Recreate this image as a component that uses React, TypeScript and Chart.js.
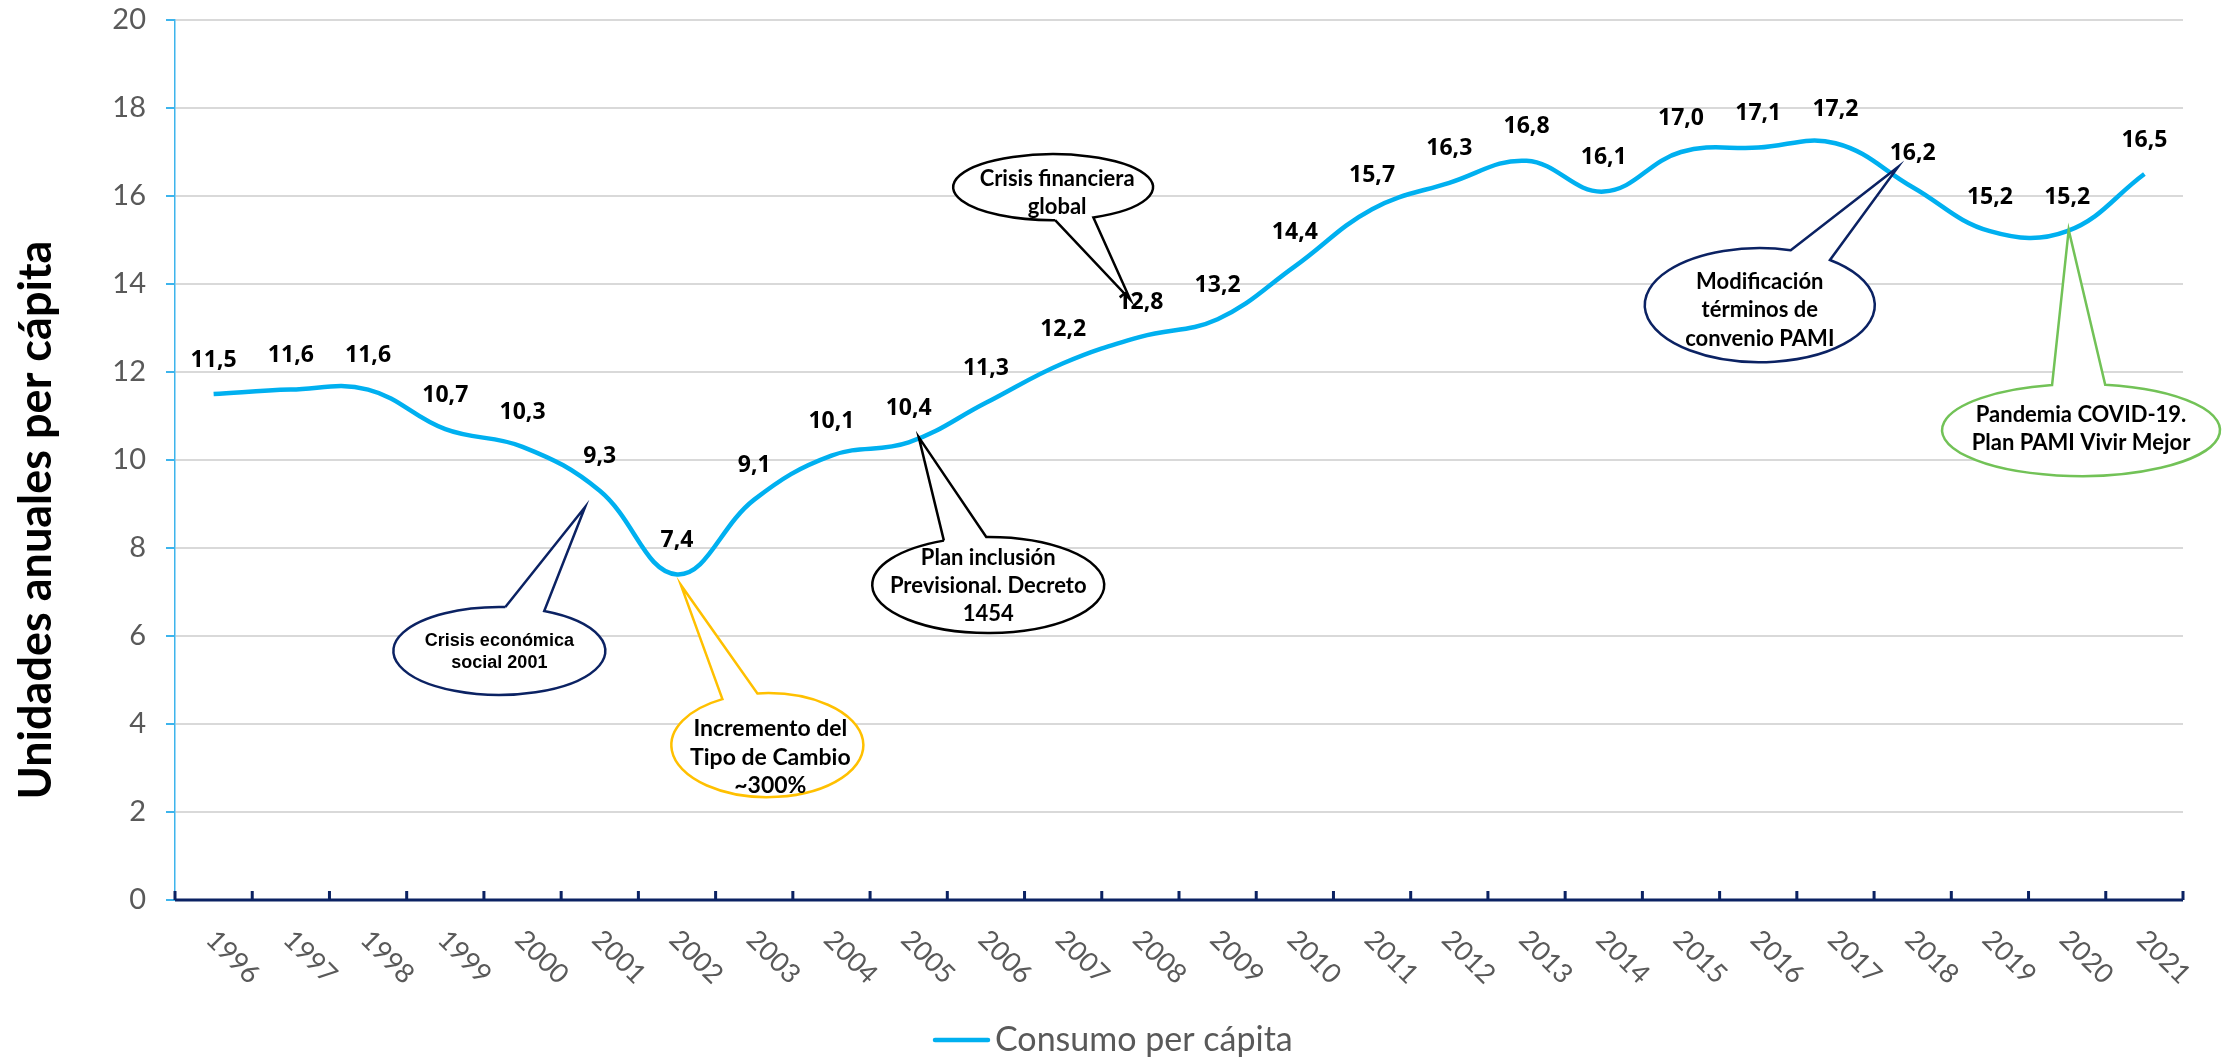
import React, { useEffect, useRef } from 'react';
import { Chart, registerables } from 'chart.js';

Chart.register(...registerables);

// ---------- data ----------
const years = ['1996', '1997', '1998', '1999', '2000', '2001', '2002', '2003', '2004', '2005', '2006', '2007', '2008',
  '2009', '2010', '2011', '2012', '2013', '2014', '2015', '2016', '2017', '2018', '2019', '2020', '2021'];
const consumo = [11.5, 11.6, 11.6, 10.7, 10.3, 9.3, 7.4, 9.1, 10.1, 10.4, 11.3, 12.2, 12.8, 13.2, 14.4, 15.7, 16.3,
  16.8, 16.1, 17.0, 17.1, 17.2, 16.2, 15.2, 15.2, 16.5];
const seriesName = 'Consumo per cápita';
const yAxisTitle = 'Unidades anuales per cápita';
const yMin = 0;
const yMax = 20;
const yStep = 2;

// annotations (callouts): text lines, ellipse centre and tail tip in data coordinates (category index, value)
const calloutLines = [
  ['Crisis económica', 'social 2001'],
  ['Incremento del', 'Tipo de Cambio', '~300%'],
  ['Plan inclusión', 'Previsional. Decreto', '1454'],
  ['Crisis financiera', 'global'],
  ['Modificación', 'términos de', 'convenio PAMI'],
  ['Pandemia COVID-19.', 'Plan PAMI Vivir Mejor'],
];
const calloutCenters = [[3.70, 5.66], [7.17, 3.52], [10.03, 7.16], [10.87, 16.2], [20.02, 13.52], [24.18, 10.68]];
const calloutTips = [[4.81, 8.93], [6.05, 7.16], [9.13, 10.52], [11.87, 13.64], [21.81, 16.66], [24.02, 15.23]];

// ---------- styles ----------
const calloutStyles = [
  { rx: 106, ry: 44, color: '#0B2263', font: 'bold 18px "Liberation Sans"', lh: 22, tdx: 0, tdy: 1, b1: [6, -44], b2: [45, -40] },
  { rx: 96, ry: 52, color: '#FFC000', font: 'bold 23px Lato', lh: 28.5, tdx: 3, tdy: 12, b1: [-45, -46], b2: [-10, -52] },
  { rx: 116, ry: 48, color: '#000000', font: 'bold 22px Lato', lh: 28, tdx: 0, tdy: 1, b1: [-44, -44], b2: [-2, -48] },
  { rx: 100, ry: 33, color: '#000000', font: 'bold 22px Lato', lh: 28, tdx: 4, tdy: 6, b1: [2, 33], b2: [40, 30] },
  { rx: 115, ry: 57, color: '#0B2263', font: 'bold 22px Lato', lh: 28.5, tdx: 0, tdy: 5, b1: [31, -55], b2: [70, -45] },
  { rx: 139, ry: 46, color: '#72C257', font: 'bold 22px Lato', lh: 28, tdx: 0, tdy: -1, b1: [-29, -45], b2: [24, -45] },
];

const LINE_COLOR = '#00B0F0';
const AXIS_BLUE = '#3DB4EC';
const NAVY = '#0B2263';
const GRAY_TEXT = '#595959';

function drawCallout(ctx: CanvasRenderingContext2D, cx: number, cy: number, tipX: number, tipY: number, st: any, lines: string[]) {
  const { rx, ry } = st;
  const t1 = Math.atan2(st.b1[1] / ry, st.b1[0] / rx);
  const t2 = Math.atan2(st.b2[1] / ry, st.b2[0] / rx);
  const p1x = cx + rx * Math.cos(t1), p1y = cy + ry * Math.sin(t1);
  const p2x = cx + rx * Math.cos(t2), p2y = cy + ry * Math.sin(t2);
  let d = t1 - t2;
  while (d < 0) d += Math.PI * 2;
  while (d >= Math.PI * 2) d -= Math.PI * 2;
  const anticlockwise = d < Math.PI;
  ctx.save();
  ctx.beginPath();
  ctx.moveTo(p1x, p1y);
  ctx.lineTo(tipX, tipY);
  ctx.lineTo(p2x, p2y);
  ctx.ellipse(cx, cy, rx, ry, 0, t2, t1, anticlockwise);
  ctx.closePath();
  ctx.fillStyle = '#ffffff';
  ctx.fill();
  ctx.lineWidth = 2.5;
  ctx.lineJoin = 'miter';
  ctx.strokeStyle = st.color;
  ctx.stroke();
  ctx.fillStyle = '#000000';
  ctx.font = st.font;
  ctx.textAlign = 'center';
  ctx.textBaseline = 'middle';
  const n = lines.length;
  lines.forEach((ln, i) => {
    ctx.fillText(ln, cx + st.tdx, cy + st.tdy + (i - (n - 1) / 2) * st.lh);
  });
  ctx.restore();
}

const overlayPlugin = {
  id: 'overlay',
  afterDatasetsDraw(chart: any) {
    const ctx: CanvasRenderingContext2D = chart.ctx;
    const xs = chart.scales.x;
    const ys = chart.scales.y;
    calloutLines.forEach((lines, i) => {
      const cx = xs.getPixelForValue(calloutCenters[i][0]);
      const cy = ys.getPixelForValue(calloutCenters[i][1]);
      const tx = xs.getPixelForValue(calloutTips[i][0]);
      const ty = ys.getPixelForValue(calloutTips[i][1]);
      drawCallout(ctx, cx, cy, tx, ty, calloutStyles[i], lines);
    });
    const meta = chart.getDatasetMeta(0);
    ctx.save();
    ctx.font = 'bold 23px "Open Sans"';
    ctx.fillStyle = '#000000';
    ctx.textAlign = 'center';
    ctx.textBaseline = 'middle';
    meta.data.forEach((pt: any, i: number) => {
      const v = chart.data.datasets[0].data[i] as number;
      ctx.fillText(v.toFixed(1).replace('.', ','), pt.x, pt.y - 34);
    });
    ctx.restore();
  },
  afterDraw(chart: any) {
    const ctx: CanvasRenderingContext2D = chart.ctx;
    const area = chart.chartArea;
    const xs = chart.scales.x;
    ctx.save();
    ctx.strokeStyle = NAVY;
    ctx.lineWidth = 3;
    ctx.beginPath();
    ctx.moveTo(area.left, area.bottom);
    ctx.lineTo(area.right, area.bottom);
    ctx.stroke();
    const n = years.length;
    const w = (area.right - area.left) / n;
    ctx.beginPath();
    for (let i = 0; i <= n; i++) {
      const x = area.left + i * w;
      ctx.moveTo(x, area.bottom);
      ctx.lineTo(x, area.bottom - 9);
    }
    ctx.stroke();
    ctx.fillStyle = GRAY_TEXT;
    ctx.font = '27px Lato';
    ctx.textAlign = 'left';
    ctx.textBaseline = 'middle';
    years.forEach((y, i) => {
      const x = xs.getPixelForValue(i);
      ctx.save();
      ctx.translate(x - 3, area.bottom + 35);
      ctx.rotate(Math.PI / 4);
      ctx.fillText(y, 0, 0);
      ctx.restore();
    });
    ctx.save();
    ctx.fillStyle = '#000000';
    ctx.font = 'bold 45px Lato';
    ctx.textAlign = 'center';
    ctx.textBaseline = 'alphabetic';
    ctx.translate(51, 520);
    ctx.rotate(-Math.PI / 2);
    ctx.fillText(yAxisTitle, 0, 0);
    ctx.restore();
    const lx = 935, ly = 1040;
    ctx.strokeStyle = LINE_COLOR;
    ctx.lineWidth = 4.5;
    ctx.lineCap = 'round';
    ctx.beginPath();
    ctx.moveTo(lx, ly);
    ctx.lineTo(lx + 53, ly);
    ctx.stroke();
    ctx.fillStyle = GRAY_TEXT;
    ctx.font = '34px Lato';
    ctx.textAlign = 'left';
    ctx.textBaseline = 'middle';
    ctx.fillText(seriesName, lx + 60, ly);
    ctx.restore();
  },
};

export default function App() {
  const ref = useRef<HTMLCanvasElement | null>(null);
  useEffect(() => {
    if (!ref.current) return;
    const chart = new Chart(ref.current, {
      type: 'line',
      data: {
        labels: years,
        datasets: [{
          label: seriesName,
          data: consumo,
          borderColor: LINE_COLOR,
          backgroundColor: LINE_COLOR,
          borderWidth: 4.5,
          pointRadius: 0,
          tension: 0.4,
          fill: false,
        }],
      },
      options: {
        animation: false,
        responsive: false,
        devicePixelRatio: 1,
        layout: { autoPadding: false, padding: { left: 0, right: 46, top: 20, bottom: 158 } },
        plugins: { legend: { display: false }, tooltip: { enabled: false } },
        scales: {
          x: { type: 'category', display: false, offset: true },
          y: {
            min: yMin,
            max: yMax,
            afterFit: (s: any) => { s.width = 175; s.paddingTop = 0; s.paddingBottom = 0; },
            ticks: { stepSize: yStep, color: GRAY_TEXT, font: { family: 'Lato', size: 29 }, padding: 20 },
            grid: { color: '#D9D9D9', lineWidth: 2, tickColor: AXIS_BLUE, tickLength: 9, tickWidth: 2 },
            border: { color: AXIS_BLUE, width: 1.5 },
          },
        },
      },
      plugins: [overlayPlugin],
    } as any);
    return () => chart.destroy();
  }, []);
  return (
    <div style={{ position: 'fixed', left: 0, top: 0, width: 2229, height: 1058, background: '#fff' }}>
      <canvas ref={ref} width={2229} height={1058} />
    </div>
  );
}
